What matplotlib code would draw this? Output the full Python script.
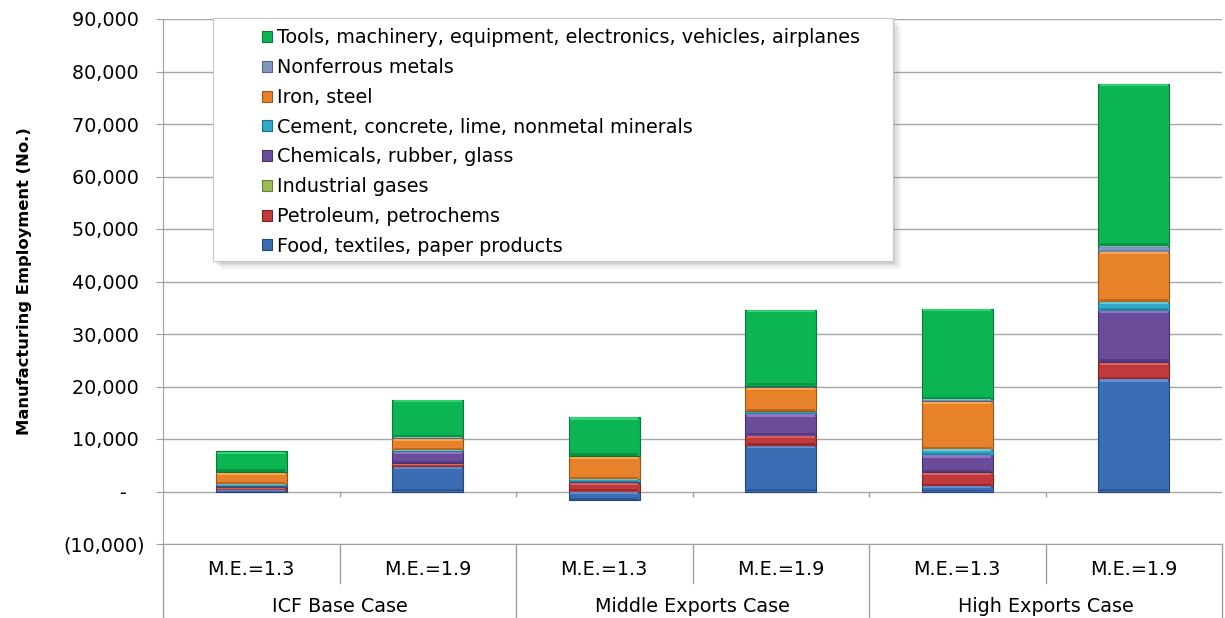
import matplotlib
matplotlib.use("Agg")
import matplotlib.pyplot as plt
from matplotlib.patches import Rectangle, Patch
from matplotlib.ticker import FuncFormatter, MultipleLocator
import numpy as np

# categories (two-level axis)
sub_labels = ["M.E.=1.3", "M.E.=1.9", "M.E.=1.3", "M.E.=1.9", "M.E.=1.3", "M.E.=1.9"]
group_labels = ["ICF Base Case", "Middle Exports Case", "High Exports Case"]

# series, bottom of the stack first
series_names = [
    "Food, textiles, paper products",
    "Petroleum, petrochems",
    "Industrial gases",
    "Chemicals, rubber, glass",
    "Cement, concrete, lime, nonmetal minerals",
    "Iron, steel",
    "Nonferrous metals",
    "Tools, machinery, equipment, electronics, vehicles, airplanes",
]
food = [200, 4700, -1700, 8700, 1000, 21400]
petro = [500, 600, 1700, 1900, 2600, 3200]
gases = [50, 50, 0, 50, 50, 100]
chem = [300, 2200, 100, 4100, 3300, 9700]
cement = [300, 300, 500, 500, 1100, 1700]
iron = [2300, 2250, 4400, 4600, 9100, 9600]
nonferrous = [100, 200, 100, 300, 400, 1100]
tools = [3900, 7200, 7400, 14500, 17300, 30900]
series_values = [food, petro, gases, chem, cement, iron, nonferrous, tools]

colors = ["#3A6DB3", "#C0393B", "#9BBB59", "#6B4C9A",
          "#2FA9C9", "#E8822A", "#8497C0", "#0BB652"]
lights = ["#6C9BE0", "#EE6A6A", "#BFDA85", "#A27FD0",
          "#6ADCF0", "#FFB45A", "#B6C6E6", "#3EE082"]
darks = ["#24477A", "#7E2224", "#66803A", "#45306A",
         "#1D6F85", "#9C5518", "#55647F", "#067A36"]

fig = plt.figure(figsize=(12.25, 6.18), dpi=100)
ax = fig.add_axes([163 / 1225, 74 / 618, 1059 / 1225, 525 / 618])

x = np.arange(len(sub_labels))
bw = 0.40
strip = 450  # bevel strip height in data units (~2.5 px)
pos_bottom = np.zeros(len(x))
neg_bottom = np.zeros(len(x))
for name, vals, c, lc, dc in zip(series_names, series_values, colors, lights, darks):
    vals = np.array(vals, dtype=float)
    bottom = np.where(vals >= 0, pos_bottom, neg_bottom)
    ax.bar(x, vals, width=bw, bottom=bottom, color=c, edgecolor=dc,
           linewidth=0.8, zorder=3)
    # simple bevel: light strip on top, dark strip at the bottom
    top = np.maximum(bottom, bottom + vals)
    low = np.minimum(bottom, bottom + vals)
    hs = np.minimum(strip, np.abs(vals) * 0.25)
    ax.bar(x, hs, width=bw * 0.96, bottom=top - hs * 1.1, color=lc,
           linewidth=0, alpha=0.8, zorder=3.1)
    ax.bar(x, hs, width=bw * 0.96, bottom=low + hs * 0.1, color=dc,
           linewidth=0, alpha=0.6, zorder=3.1)
    pos_bottom += np.where(vals >= 0, vals, 0)
    neg_bottom += np.where(vals < 0, vals, 0)

ax.set_xlim(-0.5, len(x) - 0.5)
ax.set_ylim(-10000, 90000)
ax.yaxis.set_major_locator(MultipleLocator(10000))


def fmt(v, _):
    if abs(v) < 1:
        return "-   "
    if v < 0:
        return f"({-v:,.0f})"
    return f"{v:,.0f} "


ax.yaxis.set_major_formatter(FuncFormatter(fmt))
ax.tick_params(axis="y", length=5, color="#A0A0A0", labelsize=13.8, pad=8)
ax.grid(True, axis="y", color="#A6A6A6", linewidth=1, zorder=0)
ax.set_axisbelow(True)
ax.set_xticks([])

for s in ["top", "right"]:
    ax.spines[s].set_visible(False)
ax.spines["left"].set_color("#A0A0A0")
ax.spines["bottom"].set_color("#A0A0A0")

ax.set_ylabel("Manufacturing Employment (No.)", fontsize=11.8, fontweight="bold")
ax.yaxis.set_label_coords(-0.124, 0.5)

# small tick marks on the zero line between categories
ax.vlines(x[:-1] + 0.5, -1100, 0, color="#A0A0A0", linewidth=1, zorder=2)

# two-level category axis below the plot
tr = ax.get_xaxis_transform()
for i, lab in enumerate(sub_labels):
    ax.text(i, -0.048, lab, transform=tr, ha="center", va="center", fontsize=13.8)
for g, lab in enumerate(group_labels):
    ax.text(2 * g + 0.5, -0.12, lab, transform=tr, ha="center", va="center",
            fontsize=13.8)
for b in np.arange(-0.5, len(x), 1.0):
    is_group = int(round(b + 0.5)) % 2 == 0
    y_end = -0.143 if is_group else -0.074
    ax.plot([b, b], [0, y_end], transform=tr, color="#A0A0A0", linewidth=1,
            clip_on=False)

# legend box with a soft shadow
lx0, lx1, ly0, ly1 = 0.0472, 0.689, 0.539, 1.002
for k, a in enumerate([0.10, 0.14, 0.18]):
    off = (3 - k) * 0.0025
    ax.add_patch(Rectangle((lx0 + off, ly0 - off * 2), lx1 - lx0, ly1 - ly0,
                           transform=ax.transAxes, facecolor="#808080",
                           edgecolor="none", alpha=a, zorder=4, clip_on=False))
ax.add_patch(Rectangle((lx0, ly0), lx1 - lx0, ly1 - ly0, transform=ax.transAxes,
                       facecolor="white", edgecolor="#C8C8C8", linewidth=0.8,
                       zorder=5, clip_on=False))

handles = [Patch(facecolor=c, edgecolor=dc, linewidth=0.8, label=n)
           for n, c, dc in zip(series_names, colors, darks)][::-1]
leg = ax.legend(handles=handles, loc="upper left", bbox_to_anchor=(0.0935, 0.982),
                frameon=False, fontsize=13.8, handlelength=0.5, handleheight=0.5,
                handletextpad=0.3, labelspacing=0.56, borderpad=0, borderaxespad=0)
leg.set_zorder(6)

fig.savefig("out.png", dpi=100)
